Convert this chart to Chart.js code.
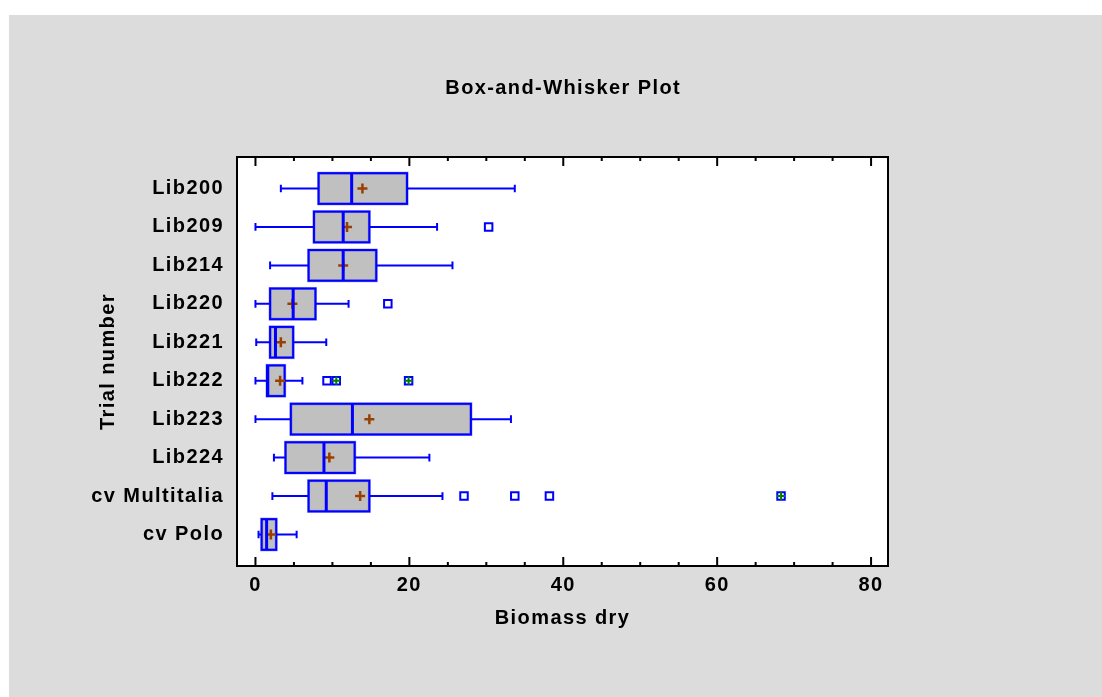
<!DOCTYPE html>
<html>
<head>
<meta charset="utf-8">
<title>Box-and-Whisker Plot</title>
<script src="https://cdn.jsdelivr.net/npm/chart.js@4.4.1/dist/chart.umd.min.js"></script>
<style>
  html, body { margin: 0; padding: 0; background: #ffffff; }
  #wrap { position: absolute; left: 0; top: 0; width: 1102px; height: 697px; }
</style>
</head>
<body>
<div id="wrap"><canvas id="boxChart"></canvas></div>
<script>
// ? Data
// ? ==================================
const CATEGORIES = ["Lib200", "Lib209", "Lib214", "Lib220", "Lib221",
  "Lib222", "Lib223", "Lib224", "cv Multitalia", "cv Polo"];
const WHISKER_LOW = [3.3, 0, 1.9, 0, 0.1, 0, 0, 2.4, 2.2, 0.4];
const Q1 = [8.2, 7.6, 6.9, 1.9, 1.9, 1.5, 4.6, 3.9, 6.9, 0.8];
const MEDIAN = [12.5, 11.4, 11.4, 4.9, 2.6, 1.6, 12.6, 8.9, 9.2, 1.45];
const Q3 = [19.7, 14.8, 15.7, 7.8, 4.9, 3.8, 28.0, 12.9, 14.8, 2.7];
const WHISKER_HIGH = [33.7, 23.6, 25.6, 12.1, 9.2, 6.1, 33.2, 22.6, 24.3, 5.35];
const MEANS = [13.9, 11.9, 11.4, 4.8, 3.3, 3.2, 14.8, 9.6, 13.6, 2.0];
const OUTLIERS = [[], [30.3], [], [17.2], [], [9.3], [], [], [27.1, 33.7, 38.2], []];
const FAR_OUTLIERS = [[], [], [], [], [], [10.5, 19.9], [], [], [68.3], []];
const X_TICKS = [0, 20, 40, 60, 80];
const X_MINOR_STEP = 5;

const FONT = "'Liberation Sans', Arial, sans-serif";
const TEXT_SIZE = 20;
const BLUE = "#0000ff";
const BOX_HALF = 0.4;
const CAP_HALF = 0.1;

// points as {x, y} for the scatter layers
const meanPoints = MEANS.map((v, i) => ({ x: v, y: i }));
const outlierPoints = [];
OUTLIERS.forEach((list, i) => list.forEach((v) => outlierPoints.push({ x: v, y: i })));
const farPoints = [];
FAR_OUTLIERS.forEach((list, i) => list.forEach((v) => farPoints.push({ x: v, y: i })));

// & Box plot drawing
// & ============================
const boxPlot = {
  id: "boxPlot",
  beforeDraw(chart) {
    const { ctx, chartArea: a } = chart;
    ctx.save();
    ctx.fillStyle = "#dcdcdc";
    ctx.fillRect(9, 15, chart.width - 9, chart.height - 15);
    ctx.fillStyle = "#ffffff";
    ctx.fillRect(a.left, a.top, a.right - a.left, a.bottom - a.top);
    ctx.restore();
    // slightly open lettering for all labels
    ctx.letterSpacing = "1.4px";
  },
  beforeDatasetsDraw(chart) {
    const { ctx } = chart;
    const x = chart.scales.x, y = chart.scales.y;
    ctx.save();
    CATEGORIES.forEach((c, i) => {
      const yc = y.getPixelForValue(i);
      const yt = y.getPixelForValue(i - BOX_HALF);
      const yb = y.getPixelForValue(i + BOX_HALF);
      const cT = y.getPixelForValue(i - CAP_HALF);
      const cB = y.getPixelForValue(i + CAP_HALF);
      const xl = x.getPixelForValue(WHISKER_LOW[i]);
      const xq1 = x.getPixelForValue(Q1[i]);
      const xq3 = x.getPixelForValue(Q3[i]);
      const xh = x.getPixelForValue(WHISKER_HIGH[i]);

      // whiskers + caps
      ctx.strokeStyle = BLUE;
      ctx.lineWidth = 2;
      ctx.beginPath();
      ctx.moveTo(xl, yc); ctx.lineTo(xq1, yc);
      ctx.moveTo(xq3, yc); ctx.lineTo(xh, yc);
      ctx.moveTo(xl, cT); ctx.lineTo(xl, cB);
      ctx.moveTo(xh, cT); ctx.lineTo(xh, cB);
      ctx.stroke();

      // box
      ctx.fillStyle = "#c0c0c0";
      ctx.fillRect(xq1, yt, xq3 - xq1, yb - yt);
      ctx.lineWidth = 3;
      ctx.strokeStyle = "rgba(0,0,255,0.35)";
      ctx.strokeRect(xq1, yt, xq3 - xq1, yb - yt);
      ctx.lineWidth = 2;
      ctx.strokeStyle = BLUE;
      ctx.strokeRect(xq1, yt, xq3 - xq1, yb - yt);
    });
    ctx.restore();
  },
  afterDatasetsDraw(chart) {
    const { ctx, chartArea: a } = chart;
    const x = chart.scales.x, y = chart.scales.y;
    ctx.save();
    // medians
    ctx.strokeStyle = BLUE;
    ctx.lineWidth = 3;
    ctx.beginPath();
    MEDIAN.forEach((m, i) => {
      const xm = x.getPixelForValue(m);
      ctx.moveTo(xm, y.getPixelForValue(i - BOX_HALF));
      ctx.lineTo(xm, y.getPixelForValue(i + BOX_HALF));
    });
    ctx.stroke();

    // frame with inward ticks on top and bottom
    ctx.strokeStyle = "#000000";
    ctx.lineWidth = 2;
    ctx.strokeRect(a.left, a.top, a.right - a.left, a.bottom - a.top);
    ctx.beginPath();
    for (let v = X_TICKS[0]; v <= X_TICKS[X_TICKS.length - 1]; v += X_MINOR_STEP) {
      const px = x.getPixelForValue(v);
      const len = X_TICKS.includes(v) ? 9 : 4;
      ctx.moveTo(px, a.bottom); ctx.lineTo(px, a.bottom - len);
      ctx.moveTo(px, a.top); ctx.lineTo(px, a.top + len);
    }
    ctx.stroke();

    // title
    ctx.fillStyle = "#000000";
    ctx.font = "bold " + TEXT_SIZE + "px " + FONT;
    ctx.textAlign = "center";
    ctx.textBaseline = "middle";
    ctx.fillText("Box-and-Whisker Plot", (a.left + a.right) / 2 + 0.7, 88);
    ctx.restore();
  },
};

// * Chart
// * ============================
const labelFont = { family: FONT, size: TEXT_SIZE, weight: "bold" };

new Chart(document.getElementById("boxChart"), {
  type: "scatter",
  data: {
    datasets: [
      {
        label: "Mean",
        data: meanPoints,
        order: 0,
        pointStyle: "cross",
        radius: 5,
        borderWidth: 2.5,
        borderColor: "#994000",
      },
      {
        label: "Far outside marks",
        data: farPoints,
        order: 1,
        pointStyle: "cross",
        radius: 4,
        borderWidth: 2,
        borderColor: "#008000",
      },
      {
        label: "Outside points",
        data: outlierPoints,
        order: 2,
        pointStyle: "rect",
        radius: 5.3,
        borderWidth: 2,
        borderColor: BLUE,
        backgroundColor: "#ffffff",
      },
      {
        label: "Far outside points",
        data: farPoints,
        order: 2,
        pointStyle: "rect",
        radius: 5.3,
        borderWidth: 2,
        borderColor: BLUE,
        backgroundColor: "#ffffff",
      },
    ],
  },
  options: {
    responsive: true,
    maintainAspectRatio: false,
    animation: false,
    events: [],
    layout: { padding: { top: 157, right: 214, bottom: 0, left: 0 } },
    plugins: { legend: { display: false }, tooltip: { enabled: false }, title: { display: false } },
    scales: {
      x: {
        type: "linear",
        min: -2.4,
        max: 82.2,
        afterBuildTicks: (s) => { s.ticks = X_TICKS.map((v) => ({ value: v })); },
        afterFit: (s) => { s.height = 131; },
        grid: { display: false, drawTicks: false },
        border: { display: false },
        ticks: { color: "#000", padding: 7, font: labelFont },
        title: {
          display: true,
          text: "Biomass dry",
          color: "#000",
          font: labelFont,
          padding: { top: 0, bottom: 67 },
        },
      },
      y: {
        type: "linear",
        reverse: true,
        min: -0.82,
        max: 9.82,
        afterBuildTicks: (s) => { s.ticks = CATEGORIES.map((c, i) => ({ value: i })); },
        afterFit: (s) => { s.width = 237; },
        grid: { display: false, drawTicks: false },
        border: { display: false },
        ticks: {
          color: "#000",
          padding: 13,
          font: labelFont,
          callback: (v) => CATEGORIES[v],
        },
        title: {
          display: true,
          text: "Trial number",
          color: "#000",
          font: labelFont,
          padding: { top: 96, bottom: 0 },
        },
      },
    },
  },
  plugins: [boxPlot],
});
</script>
</body>
</html>
